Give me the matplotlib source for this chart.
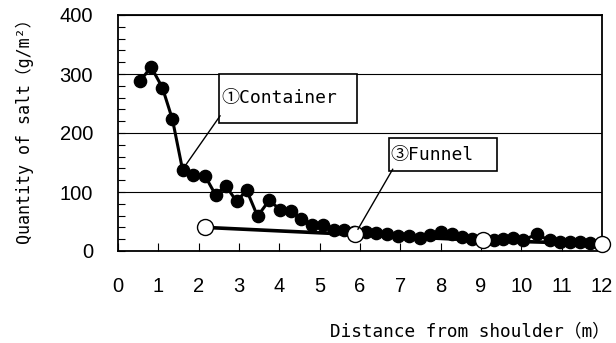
import matplotlib
matplotlib.use("Agg")
import matplotlib.pyplot as plt
from matplotlib.patches import Rectangle
from matplotlib.ticker import MultipleLocator

MONO = ['DejaVu Sans Mono', 'Noto Sans CJK JP', 'DejaVu Sans']
SANS = ['Liberation Sans', 'Noto Sans CJK JP', 'DejaVu Sans']
plt.rcParams['font.family'] = SANS

# Deposited salt per distance from the shoulder
container_x = [0.55, 0.82, 1.10, 1.35, 1.60, 1.87, 2.16, 2.42, 2.67, 2.94,
               3.19, 3.46, 3.75, 4.02, 4.29, 4.54, 4.80, 5.09, 5.36, 5.61,
               5.85, 6.14, 6.40, 6.66, 6.95, 7.22, 7.49, 7.74, 8.02, 8.27,
               8.52, 8.77, 9.06, 9.31, 9.55, 9.80, 10.05, 10.38, 10.71, 10.96,
               11.21, 11.46, 11.70]
container_y = [288, 312, 277, 223, 138, 128, 127, 95, 111, 84,
               103, 59, 86, 70, 67, 55, 44, 44, 35, 35,
               32, 32, 31, 28, 26, 25, 22, 27, 33, 28,
               24, 21, 20, 19, 21, 22, 19, 28, 18, 16,
               15, 15, 14]

funnel_x = [2.16, 5.88, 9.06, 12.0]
funnel_y = [40, 28, 18, 12]

x_ticks = list(range(0, 13))
y_ticks = [0, 100, 200, 300, 400]

fig = plt.figure(figsize=(6.16, 3.43), dpi=100)
ax = fig.add_axes([118 / 616, 1 - 251 / 343, (602 - 118) / 616, (251 - 15) / 343])

ax.plot(container_x, container_y, color='black', lw=2.2, marker='o',
        ms=8.8, mfc='black', mec='black', zorder=3, clip_on=False)
ax.plot(funnel_x, funnel_y, color='black', lw=2.6, zorder=2, clip_on=False)
ax.plot(funnel_x, funnel_y, linestyle='none', marker='o', ms=11.5,
        mfc='white', mec='black', mew=1.0, zorder=5, clip_on=False)

ax.set_xlim(0, 12)
ax.set_ylim(0, 400)
ax.set_xticks(x_ticks)
ax.set_yticks(y_ticks)
ax.yaxis.set_minor_locator(MultipleLocator(20))
ax.tick_params(axis='both', which='both', direction='in', labelsize=14.5,
               colors='black')
ax.tick_params(axis='x', which='major', length=6, width=0.8, pad=19)
ax.tick_params(axis='y', which='major', length=5, width=0.8, pad=18)
ax.tick_params(axis='y', which='minor', length=5, width=0.8)
ax.grid(axis='y', which='major', color='black', lw=0.8)
for s in ax.spines.values():
    s.set_linewidth(1.3)
    s.set_color('black')

fig.text(25 / 616, 1 - 127 / 343, 'Quantity of salt（g/m²）', rotation=90,
         ha='center', va='center', fontsize=12, family=MONO)
fig.text(610 / 616, 1 - 331 / 343, 'Distance from shoulder（m）',
         ha='right', va='center', fontsize=12.8, family=MONO)

# Callout boxes with leader lines
ax.add_patch(Rectangle((2.51, 217.5), 5.92 - 2.51, 300 - 217.5, fill=True,
                       facecolor='white', edgecolor='black', lw=1.2, zorder=6))
ax.text(2.57, 259, '①Container', ha='left', va='center', fontsize=13,
        family=MONO, zorder=7)
ax.plot([2.53, 1.60], [229, 138], color='black', lw=1.0, zorder=6)

ax.add_patch(Rectangle((6.72, 136), 9.39 - 6.72, 192 - 136, fill=True,
                       facecolor='white', edgecolor='black', lw=1.2, zorder=6))
ax.text(6.76, 162, '③Funnel', ha='left', va='center', fontsize=13,
        family=MONO, zorder=7)
ax.plot([6.81, 5.95], [138.5, 37], color='black', lw=1.0, zorder=6)

fig.savefig('out.png', dpi=100)
